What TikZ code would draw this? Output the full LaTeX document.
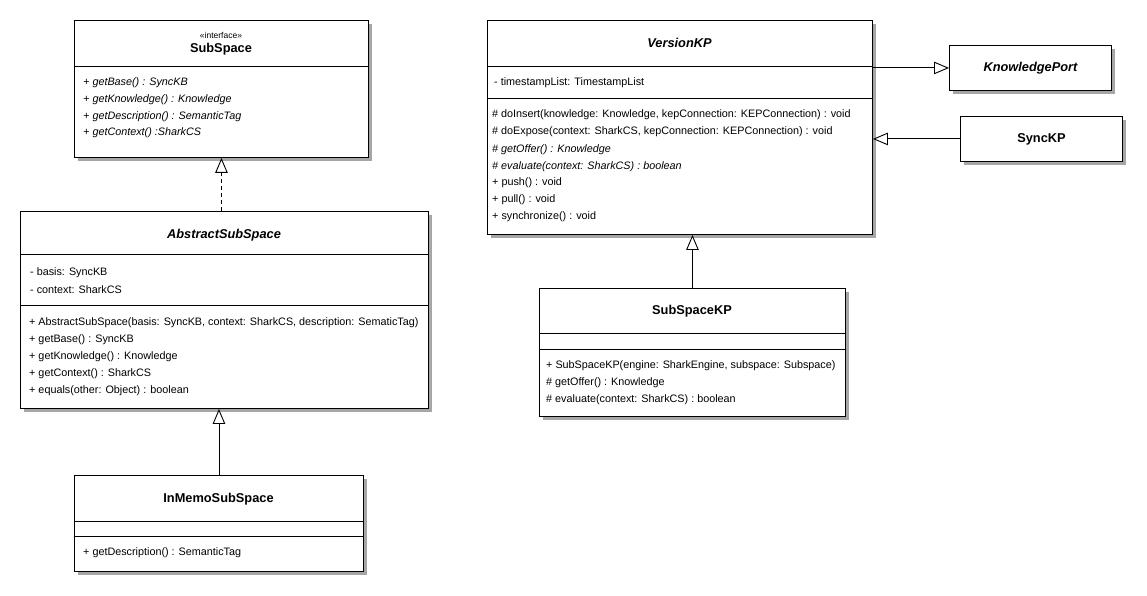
\documentclass[tikz,border=0pt]{standalone}
\usepackage{fontspec}
\setmainfont{Liberation Sans}
\usetikzlibrary{arrows.meta,shadows}
\tikzset{
  classbox/.style={draw=black, line width=0.9pt, fill=white, anchor=north west, inner sep=0pt,
    drop shadow={shadow xshift=3.5pt, shadow yshift=-3.5pt, fill=black!35, opacity=1}},
  divider/.style={draw=black, line width=0.9pt},
  member/.style={anchor=west, inner sep=0pt, font=\fontsize{10.8}{12}\selectfont},
  imember/.style={member, font=\fontsize{10.8}{12}\selectfont\itshape},
  title/.style={inner sep=0pt, font=\fontsize{12.8}{14}\selectfont\bfseries},
  ititle/.style={title, font=\fontsize{12.8}{14}\selectfont\bfseries\itshape},
  stereo/.style={inner sep=0pt, font=\fontsize{8.5}{9}\selectfont},
  conn/.style={draw=black, line width=0.9pt},
  gen/.style={conn, -{Triangle[open, length=15pt, width=12.5pt, fill=white]}},
  real/.style={gen, dash pattern=on 4pt off 3pt},
}
\begin{document}
\begin{tikzpicture}[x=1pt, y=-1pt]
\useasboundingbox (0,0) rectangle (1147,596);

% ---------- SubSpace ----------
\node[classbox, minimum width=294pt, minimum height=137pt] (subspace) at (74,20) {};
\draw[divider] (74,66) -- (368,66);
\node[stereo] (subspaceS) at (221,35.5) {«interface»};
\node[title] (subspaceT) at (221,49) {SubSpace};
\node[imember] (ss1) at (83,83) {+ getBase() : SyncKB};
\node[imember] (ss2) at (83,100) {+ getKnowledge() : Knowledge};
\node[imember] (ss3) at (83,116.5) {+ getDescription() : SemanticTag};
\node[imember] (ss4) at (83,133) {+ getContext() :SharkCS};

% ---------- AbstractSubSpace ----------
\node[classbox, minimum width=408pt, minimum height=197pt] (abstract) at (20,211) {};
\draw[divider] (20,254) -- (428,254);
\node[ititle] (abstractT) at (224,235) {AbstractSubSpace};
\draw[divider] (20,305) -- (428,305);
\node[member] (as1) at (30,273) {- basis: SyncKB};
\node[member] (as2) at (30,290) {- context: SharkCS};
\node[member] (as3) at (29,322.5) {+ AbstractSubSpace(basis: SyncKB, context: SharkCS, description: SematicTag)};
\node[member] (as4) at (29,340) {+ getBase() : SyncKB};
\node[member] (as5) at (29,357) {+ getKnowledge() : Knowledge};
\node[member] (as6) at (29,374) {+ getContext() : SharkCS};
\node[member] (as7) at (29,391) {+ equals(other: Object) : boolean};

% ---------- InMemoSubSpace ----------
\node[classbox, minimum width=289pt, minimum height=96pt] (inmemo) at (74,475) {};
\draw[divider] (74,521) -- (363,521);
\draw[divider] (74,536) -- (363,536);
\node[title] (inmemoT) at (218.5,499) {InMemoSubSpace};
\node[member] (im1) at (83,553) {+ getDescription() : SemanticTag};

% ---------- VersionKP ----------
\node[classbox, minimum width=385pt, minimum height=214pt] (versionkp) at (487,20) {};
\draw[divider] (487,66) -- (872,66);
\draw[divider] (487,98) -- (872,98);
\node[ititle] (versionkpT) at (679.5,43) {VersionKP};
\node[member] (vk0) at (494,82.5) {- timestampList: TimestampList};
\node[member] (vk1) at (492,115) {\# doInsert(knowledge: Knowledge, kepConnection: KEPConnection) : void};
\node[member] (vk2) at (492,132) {\# doExpose(context: SharkCS, kepConnection: KEPConnection) : void};
\node[imember] (vk3) at (492,149.5) {\# getOffer() : Knowledge};
\node[imember] (vk4) at (492,166.5) {\# evaluate(context: SharkCS) : boolean};
\node[member] (vk5) at (492,183) {+ push() : void};
\node[member] (vk6) at (492,199.5) {+ pull() : void};
\node[member] (vk7) at (492,216.5) {+ synchronize() : void};

% ---------- SubSpaceKP ----------
\node[classbox, minimum width=306pt, minimum height=128pt] (subspacekp) at (539,288) {};
\draw[divider] (539,333) -- (845,333);
\draw[divider] (539,349.5) -- (845,349.5);
\node[title] (subspacekpT) at (692,311) {SubSpaceKP};
\node[member] (sk1) at (546,366) {+ SubSpaceKP(engine: SharkEngine, subspace: Subspace)};
\node[member] (sk2) at (546,383) {\# getOffer() : Knowledge};
\node[member] (sk3) at (546,400) {\# evaluate(context: SharkCS) : boolean};

% ---------- KnowledgePort ----------
\node[classbox, minimum width=162pt, minimum height=45pt] (kport) at (949,45) {};
\node[ititle] (kportT) at (kport.center) {KnowledgePort};

% ---------- SyncKP ----------
\node[classbox, minimum width=162pt, minimum height=45pt] (synckp) at (960,116) {};
\node[title] (synckpT) at (synckp.center) {SyncKP};

% ---------- connectors ----------
\draw[real] (abstract.north -| subspace.south) -- (subspace.south);
\draw[gen] (inmemo.north) -- (inmemo.north |- abstract.south);
\draw[gen] (subspacekp.north) -- (subspacekp.north |- versionkp.south);
\draw[gen] (versionkp.east |- kport.west) -- (kport.west);
\draw[gen] (synckp.west) -- (synckp.west -| versionkp.east);
\end{tikzpicture}
\end{document}
